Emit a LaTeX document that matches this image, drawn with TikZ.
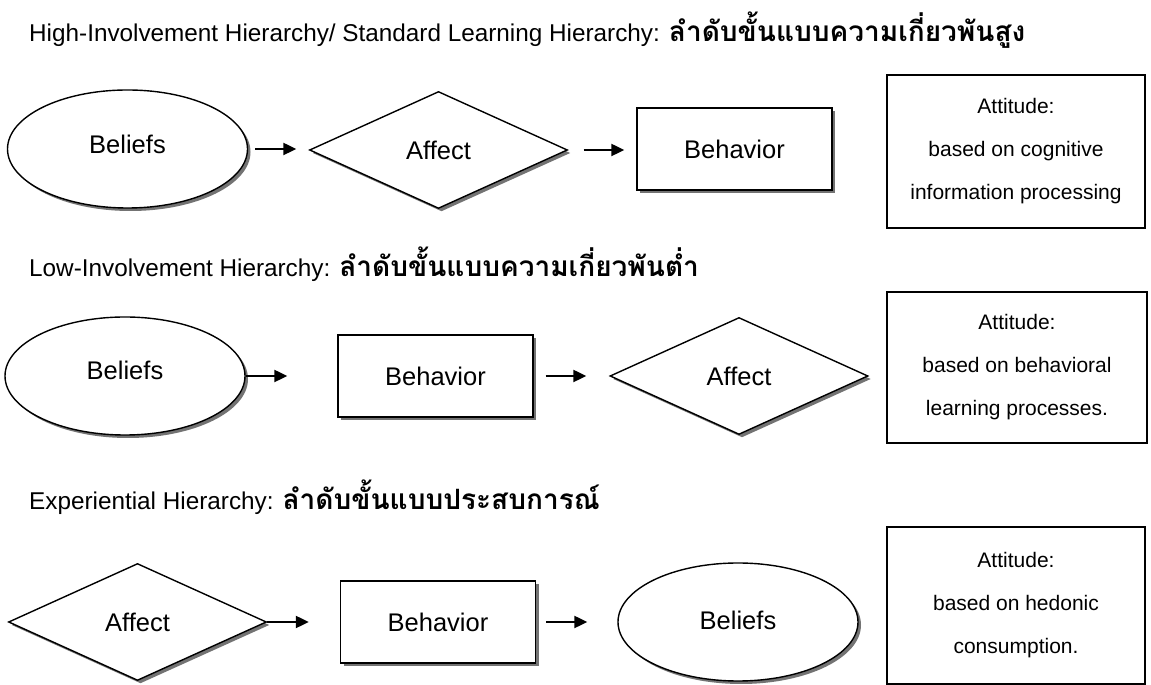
\documentclass[tikz,border=0pt]{standalone}
\usepackage{fontspec}
\setmainfont{Liberation Sans}
\newfontfamily\thaifont[Script=Thai]{Loma}
\usetikzlibrary{shapes.geometric,arrows.meta,shadows,backgrounds}

% Thai part of a heading, set larger and bold
\newcommand{\thaihead}[1]{{\thaifont\bfseries\fontsize{28}{30}\selectfont #1}}

\begin{document}
\begin{tikzpicture}[x=1pt,y=1pt,
  dropshade/.style={drop shadow={shadow xshift=3pt,shadow yshift=-3pt,fill=black!55,opacity=1}},
  shapebox/.style={draw=black,line width=1.4pt,fill=white,inner sep=0pt,
    font=\fontsize{25.5}{30}\selectfont,dropshade},
  ovalbox/.style={shapebox,ellipse,minimum width=240pt,minimum height=118pt},
  rhombbox/.style={shapebox,diamond,minimum width=258pt,minimum height=117pt},
  rectbox/.style={shapebox,rectangle,minimum width=195pt,minimum height=82pt},
  arr/.style={line width=2.2pt,-{Triangle[length=13pt,width=12pt]}},
  attbox/.style={draw=black,line width=1.4pt,fill=white,inner sep=0pt,
    minimum width=258pt,align=center,font=\fontsize{21}{43}\selectfont},
  attshade/.style={fill=black!28},
  heading/.style={anchor=base west,inner sep=0pt,font=\fontsize{24.3}{28}\selectfont},
]
\useasboundingbox (0,0) rectangle (1151,685);
\fill[white] (0,0) rectangle (1151,685);

% headings
\node[heading] (t1) at (29,643) {High-Involvement Hierarchy/ Standard Learning Hierarchy: \thaihead{ลำดับขั้นแบบความเกี่ยวพันสูง}};
\node[heading] (t2) at (29,408) {Low-Involvement Hierarchy: \thaihead{ลำดับขั้นแบบความเกี่ยวพันต่ำ}};
\node[heading] (t3) at (29,175) {Experiential Hierarchy: \thaihead{ลำดับขั้นแบบประสบการณ์}};

% high-involvement row
\node[ovalbox]  (b1) at (127.5,536) {\raisebox{10pt}{Beliefs}};
\node[rhombbox] (f1) at (438.5,535) {\raisebox{-10pt}{Affect}};
\node[rectbox]  (h1) at (734.5,536) {Behavior};
\draw[arr,shorten <=7pt,shorten >=12.5pt] (b1.east) -- (b1.east -| f1.west);
\draw[arr,shorten <=15.5pt,shorten >=12pt] (f1.east) -- (f1.east -| h1.west);

% low-involvement row
\node[ovalbox]  (b2) at (125,309) {\raisebox{12pt}{Beliefs}};
\node[rectbox]  (h2) at (435.5,309) {Behavior};
\node[rhombbox] (f2) at (739,309) {\raisebox{-8pt}{Affect}};
\draw[arr,shorten >=50pt] (b2.east) -- (b2.east -| h2.west);
\draw[arr,shorten <=12pt,shorten >=23pt] (h2.east) -- (h2.east -| f2.west);

% experiential row
\node[rhombbox] (f3) at (137.5,63) {\raisebox{-12pt}{Affect}};
\node[rectbox]  (h3) at (438,63) {Behavior};
\node[ovalbox]  (b3) at (738,63) {\raisebox{4pt}{Beliefs}};
\draw[arr,shorten >=31pt] (f3.east) -- (f3.east -| h3.west);
\draw[arr,shorten <=10pt,shorten >=30pt] (h3.east) -- (h3.east -| b3.west);

% attitude boxes
\node[attbox,minimum height=153pt] (a1) at (1016,533.5)
  {Attitude:\\based on cognitive\\information processing};
\node[attbox,minimum height=151pt,minimum width=260pt] (a2) at (1017,317.5)
  {Attitude:\\based on behavioral\\learning processes.};
\node[attbox,minimum height=157pt] (a3) at (1016,79.5)
  {Attitude:\\based on hedonic\\consumption.};

\begin{scope}[on background layer]
  \foreach \a in {a1,a2,a3}{
    \fill[attshade] ([yshift=-15pt]\a.north east) rectangle ([xshift=5pt,yshift=-15pt]\a.south east);
    \fill[attshade] ([xshift=18pt]\a.south west) rectangle ([xshift=5pt,yshift=-15pt]\a.south east);
  }
\end{scope}
\end{tikzpicture}
\end{document}
